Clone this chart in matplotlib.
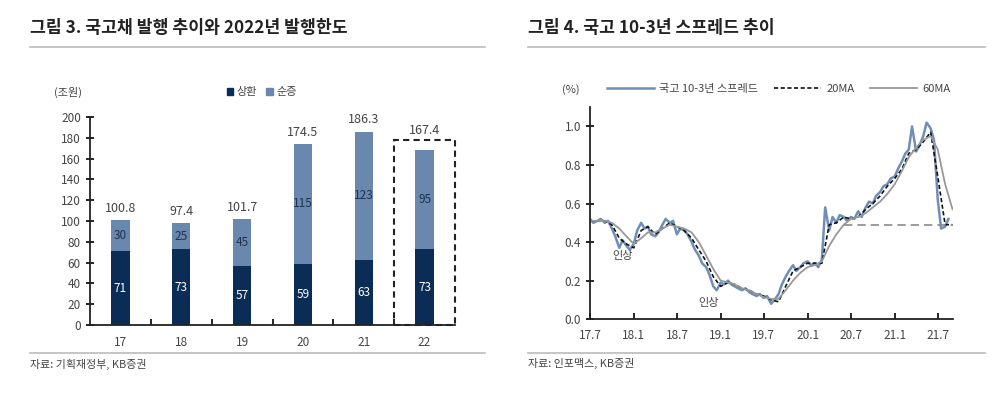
import pandas as pd
import matplotlib
matplotlib.use("Agg")
import matplotlib.pyplot as plt
from matplotlib.lines import Line2D
from matplotlib.patches import Rectangle, Patch

plt.rcParams['font.family'] = ['Noto Sans CJK KR', 'DejaVu Sans']

# === DATA: left chart (국고채 발행) ===
years = ["17", "18", "19", "20", "21", "22"]
repay = [71, 73, 57, 59, 63, 73]        # 상환
net_new = [30, 25, 45, 115, 123, 95]    # 순증
totals = [100.8, 97.4, 101.7, 174.5, 186.3, 167.4]

# === DATA: right chart (국고 10-3년 스프레드), semi-monthly readings from 2017-07 ===
spread = [
    0.52, 0.50, 0.51, 0.52, 0.50, 0.51, 0.47, 0.43, 0.37, 0.41, 0.38, 0.36,
    0.39, 0.46, 0.50, 0.47, 0.48, 0.44, 0.43, 0.45, 0.49, 0.52, 0.50, 0.51,
    0.44, 0.47, 0.46, 0.44, 0.40, 0.36, 0.33, 0.29, 0.27, 0.23, 0.17, 0.15,
    0.19, 0.18, 0.20, 0.18, 0.17, 0.16, 0.15, 0.16, 0.14, 0.13, 0.12, 0.13,
    0.11, 0.12, 0.08, 0.10, 0.13, 0.18, 0.22, 0.25, 0.28, 0.25, 0.27, 0.29,
    0.30, 0.28, 0.29, 0.27, 0.31, 0.58, 0.46, 0.53, 0.50, 0.54, 0.53, 0.51,
    0.53, 0.52, 0.56, 0.53, 0.58, 0.61, 0.60, 0.64, 0.66, 0.69, 0.70, 0.73,
    0.74, 0.78, 0.82, 0.86, 0.88, 1.00, 0.87, 0.90, 0.95, 1.02, 0.99, 0.93,
    0.62, 0.47, 0.48, 0.52,
]
# monthly readings from 2017-07 to 2021-09
ma20 = [
    0.51, 0.51, 0.51, 0.49, 0.42, 0.39,
    0.37, 0.46, 0.48, 0.44, 0.47, 0.50, 0.48, 0.46, 0.42, 0.36, 0.30, 0.22,
    0.17, 0.19, 0.18, 0.16, 0.15, 0.13, 0.12, 0.10, 0.09, 0.17, 0.25, 0.27,
    0.29, 0.29, 0.29, 0.49, 0.50, 0.53, 0.52, 0.53, 0.57, 0.60, 0.64, 0.69,
    0.73, 0.78, 0.86, 0.88, 0.92, 0.97, 0.74, 0.49, 0.49,
]
ma60 = [
    0.51, 0.51, 0.51, 0.50, 0.47, 0.43,
    0.39, 0.42, 0.45, 0.45, 0.47, 0.49, 0.48, 0.47, 0.45, 0.40, 0.33, 0.26,
    0.20, 0.19, 0.18, 0.16, 0.15, 0.13, 0.115, 0.105, 0.105, 0.15, 0.20, 0.24,
    0.27, 0.28, 0.30, 0.38, 0.44, 0.49, 0.52, 0.53, 0.55, 0.58, 0.61, 0.65,
    0.70, 0.77, 0.84, 0.89, 0.93, 0.95, 0.88, 0.70, 0.57,
]
floor_level = 0.49
tick_labels = ["17.7", "18.1", "18.7", "19.1", "19.7", "20.1", "20.7", "21.1", "21.7"]

spread_dates = pd.date_range("2017-07-01", periods=len(spread), freq="SMS")
ma_dates = pd.date_range("2017-07-01", periods=len(ma20), freq="MS")
tick_dates = pd.date_range("2017-07-01", periods=len(tick_labels), freq="6MS")

DARK = "#0b2c55"
LIGHT = "#6a88ad"
LINE_BLUE = "#6f8fb6"
TXT = "#444444"

fig = plt.figure(figsize=(10, 3.94), dpi=100)

# === HEADERS / FOOTERS ===
fig.text(0.03, 0.93, "그림 3. 국고채 발행 추이와 2022년 발행한도", fontsize=12.4,
         fontweight="bold", va="center", color="#222222")
fig.text(0.528, 0.93, "그림 4. 국고 10-3년 스프레드 추이", fontsize=12.4,
         fontweight="bold", va="center", color="#222222")
for x0, x1 in [(0.03, 0.485), (0.528, 0.985)]:
    fig.add_artist(Line2D([x0, x1], [0.881, 0.881], color="#bbbbbb", lw=1.2))
    fig.add_artist(Line2D([x0, x1], [0.105, 0.105], color="#bbbbbb", lw=1.2))
fig.text(0.03, 0.075, "자료: 기획재정부, KB증권", fontsize=7.9, va="center", color=TXT)
fig.text(0.528, 0.078, "자료: 인포맥스, KB증권", fontsize=7.9, va="center", color=TXT)

# === LEFT: stacked bars ===
ax = fig.add_axes([0.09, 0.175, 0.365, 0.528])
x = range(len(years))
width = 0.3
ax.bar(x, repay, width, color=DARK, label="상환")
ax.bar(x, net_new, width, bottom=repay, color=LIGHT, label="순증")

for i in x:
    ax.text(i, repay[i] / 2, f"{repay[i]}", ha="center", va="center",
            fontsize=8.5, color="white")
    ax.text(i, repay[i] + net_new[i] / 2, f"{net_new[i]}", ha="center",
            va="center", fontsize=8.5, color="#1e3250")
    # the 2022 total sits above the dashed box
    y_lab = 181 if i == len(years) - 1 else repay[i] + net_new[i] + 5
    ax.text(i, y_lab, f"{totals[i]}", ha="center", va="bottom", fontsize=9, color=TXT)

ax.add_patch(Rectangle((4.5, 0), 1.0, 178, fill=False, ls=(0, (3, 2)),
                       lw=1.5, ec="#222222", clip_on=False, zorder=3))

ax.set_xlim(-0.5, 5.5)
ax.set_ylim(0, 200)
ax.set_yticks(range(0, 201, 20))
ax.set_xticks(list(x))
ax.set_xticklabels(years)
ax.set_xticks([i + 0.5 for i in range(5)], minor=True)
ax.tick_params(axis="x", which="major", length=0, pad=8, labelsize=8.5, labelcolor=TXT)
ax.tick_params(axis="x", which="minor", direction="in", length=4, width=1.2)
ax.tick_params(axis="y", direction="inout", length=6, width=1.2, labelsize=8.5,
               labelcolor=TXT)
for s in ["top", "right"]:
    ax.spines[s].set_visible(False)
for s in ["left", "bottom"]:
    ax.spines[s].set_linewidth(1.3)
    ax.spines[s].set_color("#222222")

ax.text(-0.10, 1.12, "(조원)", transform=ax.transAxes, fontsize=8, color=TXT,
        va="center", ha="left")
leg = ax.legend(handles=[Patch(color=DARK, label="상환"), Patch(color=LIGHT, label="순증")],
                loc="center", bbox_to_anchor=(0.47, 1.12), ncol=2, frameon=False,
                fontsize=8, handlelength=0.6, handleheight=0.6, handletextpad=0.3,
                columnspacing=0.8)
for t in leg.get_texts():
    t.set_color(TXT)

# === RIGHT: spread lines ===
ax2 = fig.add_axes([0.59, 0.19, 0.363, 0.538])
ax2.plot(spread_dates, spread, color=LINE_BLUE, lw=1.8, label="국고 10-3년 스프레드")
ax2.plot(ma_dates, ma20, color="#111111", lw=1.2, ls=(0, (2.5, 1.5)), label="20MA")
ax2.plot(ma_dates, ma60, color="#999999", lw=1.3, label="60MA")
ax2.plot([pd.Timestamp("2020-06-01"), pd.Timestamp("2021-09-01")],
         [floor_level, floor_level], color="#8a8a8a", lw=1.2, ls=(0, (5, 3)))

ax2.text(pd.Timestamp("2017-11-15"), 0.33, "인상", fontsize=8, color=TXT,
         ha="center", va="center")
ax2.text(pd.Timestamp("2018-11-10"), 0.085, "인상", fontsize=8, color=TXT,
         ha="center", va="center")

ax2.set_xlim(pd.Timestamp("2017-07-01"), pd.Timestamp("2021-09-03"))
ax2.set_ylim(0, 1.1)
ax2.set_yticks([0.0, 0.2, 0.4, 0.6, 0.8, 1.0])
ax2.yaxis.set_major_formatter(plt.FormatStrFormatter("%.1f"))
ax2.set_xticks(tick_dates)
ax2.set_xticklabels(tick_labels)
ax2.tick_params(axis="x", direction="in", length=4, width=1.2, pad=7,
                labelsize=8.5, labelcolor=TXT)
ax2.tick_params(axis="y", direction="inout", length=6, width=1.2, labelsize=8.5,
                labelcolor=TXT)
for s in ["top", "right"]:
    ax2.spines[s].set_visible(False)
for s in ["left", "bottom"]:
    ax2.spines[s].set_linewidth(1.3)
    ax2.spines[s].set_color("#222222")

ax2.text(-0.078, 1.085, "(%)", transform=ax2.transAxes, fontsize=8, color=TXT,
         va="center", ha="left")
leg2 = ax2.legend(loc="center", bbox_to_anchor=(0.52, 1.085), ncol=3, frameon=False,
                  fontsize=8, handlelength=4.2, handletextpad=0.5, columnspacing=1.4)
for t in leg2.get_texts():
    t.set_color(TXT)

plt.savefig("out.png", dpi=100)
